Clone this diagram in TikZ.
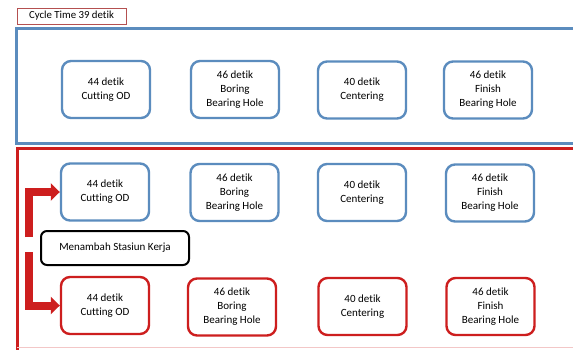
\documentclass[tikz,border=0pt]{standalone}
\usepackage{fontspec}
\setmainfont{Carlito}[Ligatures=NoCommon]
\usetikzlibrary{arrows.meta}

\definecolor{frameblue}{RGB}{91,140,190}
\definecolor{framered}{RGB}{205,30,30}
\definecolor{tagred}{RGB}{180,80,80}

\begin{document}
\begin{tikzpicture}[x=1pt,y=-1pt,
    station/.style={draw=frameblue,line width=2.4pt,rounded corners=9pt,
        minimum width=88pt,minimum height=57pt,align=center,inner sep=1pt,
        font=\fontsize{11}{14}\selectfont},
    newstation/.style={station,draw=framered},
    bentarrow/.style={draw=framered,line width=8pt,
        -{Triangle[width=17pt,length=9pt]}}]
    \clip (0,0) rectangle (573,349);
    \fill[white] (0,0) rectangle (573,349);

    % Cycle time tag and the two frames
    \node[draw=tagred,line width=0.8pt,minimum width=109pt,minimum height=16pt,
        inner sep=0pt,font=\fontsize{10.8}{12}\selectfont] (cycle) at (71.5,16)
        {Cycle Time 39 detik};
    \draw[frameblue,line width=3pt] (16,28) rectangle (580,143);
    \draw[framered,line width=3pt] (580,148) -- (17,148) -- (17,355);
    \draw[framered!25,line width=1pt] (17,347) -- (573,347);

    % Current line
    \node[station] (cut) at (106,89.5) {44 detik\\Cutting OD};
    \node[station] (bore) at (235,89.5) {46 detik\\Boring\\Bearing Hole};
    \node[station] (center) at (362,90) {40 detik\\Centering};
    \node[station] (finish) at (488,90) {46 detik\\Finish\\Bearing Hole};

    % Proposed line: the old stations plus one added station per step
    \node[station] (cutA) at (105,192) {44 detik\\Cutting OD};
    \node[station] (boreA) at (234.5,192.5) {46 detik\\Boring\\Bearing Hole};
    \node[station] (centerA) at (362,192.5) {40 detik\\Centering};
    \node[station] (finishA) at (490,193) {46 detik\\Finish\\Bearing Hole};

    \node[newstation] (cutB) at (105,305.5) {44 detik\\Cutting OD};
    \node[newstation] (boreB) at (232,307) {46 detik\\Boring\\Bearing Hole};
    \node[newstation] (centerB) at (362.5,306.5) {40 detik\\Centering};
    \node[newstation] (finishB) at (490.5,306.5) {46 detik\\Finish\\Bearing Hole};

    \node[draw=black,line width=2pt,rounded corners=6pt,minimum width=148pt,
        minimum height=34pt,font=\fontsize{11}{13}\selectfont] (add) at (115,248)
        {Menambah Stasiun Kerja};

    \coordinate (splitup) at (29,237);
    \coordinate (splitdown) at (29,252);
    \draw[bentarrow] (splitup) |- (cutA.west);
    \draw[bentarrow] (splitdown) |- (cutB.west);
\end{tikzpicture}
\end{document}
